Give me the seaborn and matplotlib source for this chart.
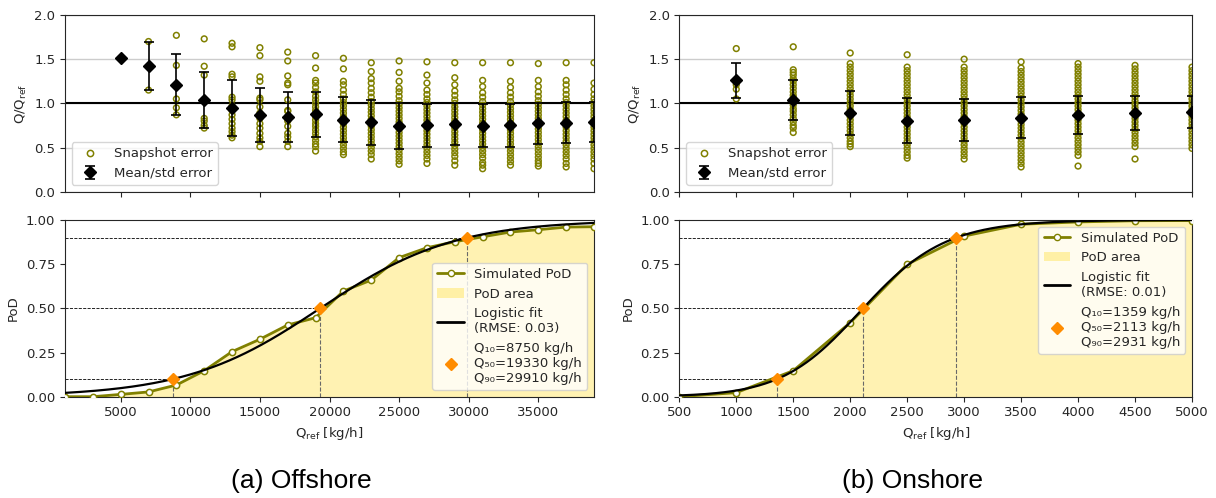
import numpy as np
import pandas as pd
import matplotlib.pyplot as plt
import seaborn as sns
from matplotlib.lines import Line2D
from matplotlib.patches import Patch

# ---------------- data ----------------
# Offshore: snapshot errors Q/Qref per reference rate
off_q_top = [5000, 7000, 9000, 11000, 13000, 15000, 17000, 19000, 21000,
             23000, 25000, 27000, 29000, 31000, 33000, 35000, 37000, 39000]
off_snap = [
    [1.51],
    [1.70, 1.15],
    [1.77, 1.43, 1.05, 0.95, 0.87],
    [1.73, 1.42, 1.32, 1.04, 0.83, 0.80, 0.75, 0.72],
    [1.68, 1.64, 1.33, 1.30, 1.07, 1.04, 0.97, 0.92, 0.87, 0.82, 0.77, 0.72, 0.68, 0.64, 0.61],
    [1.63, 1.54, 1.30, 1.25, 1.06, 1.04, 0.96, 0.89, 0.83, 0.77, 0.72, 0.66, 0.61, 0.57, 0.51],
    [1.58, 1.48, 1.31, 1.23, 1.21, 1.04, 0.92, 0.91, 0.85, 0.80, 0.74, 0.66, 0.62, 0.57, 0.51],
    [1.54, 1.40, 1.26, 1.23, 1.18, 1.13, 1.08, 1.04, 1.00, 0.96, 0.92, 0.89, 0.85, 0.81, 0.77,
     0.74, 0.70, 0.66, 0.62, 0.58, 0.54, 0.51, 0.46],
    [1.51, 1.39, 1.25, 1.21, 1.15, 1.10, 1.05, 1.01, 0.97, 0.93, 0.89, 0.85, 0.81, 0.77, 0.73,
     0.69, 0.65, 0.61, 0.57, 0.53, 0.49, 0.45, 0.42],
    [1.46, 1.36, 1.28, 1.23, 1.17, 1.12, 1.07, 1.02, 0.98, 0.94, 0.90, 0.86, 0.82, 0.78, 0.74,
     0.70, 0.66, 0.62, 0.58, 0.54, 0.50, 0.46, 0.42, 0.37],
    [1.48, 1.35, 1.25, 1.17, 1.13, 1.08, 1.03, 0.99, 0.95, 0.91, 0.87, 0.83, 0.79, 0.75, 0.71,
     0.67, 0.63, 0.59, 0.55, 0.51, 0.47, 0.43, 0.39, 0.35, 0.31],
    [1.47, 1.32, 1.23, 1.15, 1.10, 1.05, 1.01, 0.97, 0.93, 0.89, 0.85, 0.81, 0.77, 0.73, 0.69,
     0.65, 0.61, 0.57, 0.53, 0.49, 0.45, 0.41, 0.37, 0.32],
    [1.46, 1.29, 1.21, 1.14, 1.09, 1.04, 1.00, 0.96, 0.92, 0.88, 0.84, 0.80, 0.76, 0.72, 0.68,
     0.64, 0.60, 0.56, 0.52, 0.48, 0.44, 0.40, 0.35, 0.30],
    [1.46, 1.26, 1.19, 1.12, 1.07, 1.02, 0.98, 0.94, 0.90, 0.86, 0.82, 0.78, 0.74, 0.70, 0.66,
     0.62, 0.58, 0.54, 0.50, 0.46, 0.42, 0.38, 0.33, 0.30, 0.26],
    [1.46, 1.25, 1.18, 1.12, 1.07, 1.02, 0.98, 0.94, 0.90, 0.86, 0.82, 0.78, 0.74, 0.70, 0.66,
     0.62, 0.58, 0.54, 0.50, 0.46, 0.42, 0.38, 0.34, 0.30],
    [1.45, 1.26, 1.19, 1.13, 1.08, 1.03, 0.99, 0.95, 0.91, 0.87, 0.83, 0.79, 0.75, 0.71, 0.67,
     0.63, 0.59, 0.55, 0.51, 0.47, 0.43, 0.39, 0.35, 0.32, 0.29],
    [1.46, 1.26, 1.21, 1.15, 1.10, 1.05, 1.01, 0.97, 0.93, 0.89, 0.85, 0.81, 0.77, 0.73, 0.69,
     0.65, 0.61, 0.57, 0.53, 0.49, 0.45, 0.41, 0.37, 0.32, 0.28],
    [1.46, 1.23, 1.16, 1.10, 1.05, 1.01, 0.97, 0.93, 0.89, 0.85, 0.81, 0.77, 0.73, 0.69, 0.65,
     0.61, 0.57, 0.53, 0.49, 0.45, 0.41, 0.37, 0.32, 0.26],
]
off_mean = [1.514, 1.423, 1.208, 1.038, 0.944, 0.869, 0.849, 0.876, 0.812,
            0.786, 0.741, 0.752, 0.767, 0.747, 0.752, 0.774, 0.780, 0.786]
off_std = [np.nan, 0.275, 0.345, 0.313, 0.315, 0.304, 0.283, 0.253, 0.255,
           0.257, 0.260, 0.245, 0.235, 0.246, 0.243, 0.230, 0.230, 0.225]

# Offshore: simulated probability of detection
off_q_pod = [1000, 3000, 5000, 7000, 9000, 11000, 13000, 15000, 17000, 19000,
             21000, 23000, 25000, 27000, 29000, 31000, 33000, 35000, 37000, 39000]
off_pod = [0.0, 0.0, 0.013, 0.027, 0.066, 0.147, 0.255, 0.325, 0.406, 0.447,
           0.598, 0.66, 0.787, 0.843, 0.877, 0.905, 0.932, 0.945, 0.96, 0.962]
off_quant = [8750, 19330, 29910]
off_rmse = 0.03

# Onshore
on_q_top = [1000, 1500, 2000, 2500, 3000, 3500, 4000, 4500, 5000]
on_snap = [
    [1.62, 1.26, 1.21, 1.16, 1.05],
    [1.64, 1.38, 1.35, 1.32, 1.28, 1.25, 1.21, 1.17, 1.13, 1.09, 1.06, 1.02, 0.98, 0.94, 0.91,
     0.87, 0.83, 0.79, 0.75, 0.72, 0.67],
    [1.57, 1.45, 1.41, 1.37, 1.33, 1.29, 1.25, 1.21, 1.17, 1.13, 1.09, 1.05, 1.01, 0.97, 0.93,
     0.89, 0.85, 0.81, 0.77, 0.73, 0.69, 0.65, 0.61, 0.57, 0.54, 0.51],
    [1.55, 1.41, 1.37, 1.33, 1.29, 1.25, 1.21, 1.17, 1.13, 1.09, 1.05, 1.01, 0.97, 0.93, 0.89,
     0.85, 0.81, 0.77, 0.73, 0.69, 0.65, 0.61, 0.57, 0.53, 0.49, 0.45, 0.41, 0.38],
    [1.50, 1.41, 1.37, 1.33, 1.29, 1.25, 1.21, 1.17, 1.13, 1.09, 1.05, 1.01, 0.97, 0.93, 0.89,
     0.85, 0.81, 0.77, 0.73, 0.69, 0.65, 0.61, 0.57, 0.53, 0.49, 0.45, 0.41, 0.37],
    [1.47, 1.40, 1.36, 1.32, 1.28, 1.24, 1.20, 1.16, 1.12, 1.08, 1.04, 1.00, 0.96, 0.92, 0.88,
     0.84, 0.80, 0.76, 0.72, 0.68, 0.64, 0.60, 0.56, 0.52, 0.48, 0.44, 0.40, 0.36, 0.32, 0.28],
    [1.45, 1.41, 1.37, 1.33, 1.29, 1.25, 1.21, 1.17, 1.13, 1.09, 1.05, 1.01, 0.97, 0.93, 0.89,
     0.85, 0.81, 0.77, 0.73, 0.69, 0.65, 0.61, 0.57, 0.53, 0.49, 0.45, 0.41, 0.29],
    [1.43, 1.39, 1.35, 1.31, 1.27, 1.23, 1.19, 1.15, 1.11, 1.07, 1.03, 0.99, 0.95, 0.91, 0.87,
     0.83, 0.79, 0.75, 0.71, 0.67, 0.63, 0.59, 0.55, 0.51, 0.37],
    [1.41, 1.37, 1.33, 1.29, 1.25, 1.21, 1.17, 1.13, 1.09, 1.05, 1.01, 0.97, 0.93, 0.89, 0.85,
     0.81, 0.77, 0.73, 0.69, 0.65, 0.61, 0.57, 0.53, 0.49],
]
on_mean = [1.26, 1.04, 0.887, 0.804, 0.815, 0.838, 0.868, 0.89, 0.90]
on_std = [0.195, 0.227, 0.25, 0.253, 0.238, 0.234, 0.215, 0.19, 0.178]

on_q_pod = [500, 1000, 1500, 2000, 2500, 3000, 3500, 4000, 4500, 5000]
on_pod = [0.0, 0.023, 0.147, 0.419, 0.749, 0.909, 0.976, 0.989, 0.996, 0.997]
on_quant = [1359, 2113, 2931]
on_rmse = 0.01

OLIVE = "olive"
ORANGE = "#ff8c00"
LEG_FS = 9.5


def logistic_fit(q10, q50, q90, x):
    # generalised logistic passing through the three quantiles
    nus = np.linspace(0.3, 4, 3701)
    g = lambda p, nu: np.log(p ** (-1 / nu) - 1)
    ratio = (g(.5, nus) - g(.9, nus)) / (g(.1, nus) - g(.5, nus))
    nu = nus[np.argmin(np.abs(ratio - (q90 - q50) / (q50 - q10)))]
    s = (q90 - q50) / (g(.5, nu) - g(.9, nu))
    x0 = q50 + s * g(.5, nu)
    return (1 + np.exp(-(x - x0) / s)) ** (-nu)


def draw_top(ax, q, snaps, mean, std, xlim, step):
    df = pd.DataFrame({"q": np.repeat(q, [len(s) for s in snaps]),
                       "err": np.concatenate(snaps)})
    sns.scatterplot(data=df, x="q", y="err", ax=ax, marker="o", s=17,
                    facecolor="none", edgecolor=OLIVE, linewidth=1.1, zorder=3)
    ax.axhline(1.0, color="k", lw=1.5, zorder=2)
    ax.errorbar(q, mean, yerr=std, fmt="D", color="k", ms=6, capsize=3.5,
                elinewidth=1.2, capthick=1.2, zorder=4)
    ax.set_xlim(*xlim)
    ax.set_ylim(0, 2)
    ax.set_yticks([0, 0.5, 1.0, 1.5, 2.0])
    ax.set_xticks(np.arange(step, xlim[1] + 1, step))
    ax.tick_params(labelbottom=False)
    ax.grid(axis="y", color="#cccccc", lw=1)
    ax.set_axisbelow(True)
    ax.set_xlabel("")
    ax.set_ylabel("Q/Q$_{\\mathrm{ref}}$")
    handles = [Line2D([], [], ls="none", marker="o", mfc="none", mec=OLIVE, mew=1.1, ms=4.5),
               ax.containers[-1]]
    ax.legend(handles, ["Snapshot error", "Mean/std error"], loc="lower left", fontsize=LEG_FS)


def draw_bottom(ax, q, pod, quant, rmse, xlim, step, loc):
    ax.fill_between(q, pod, color="gold", alpha=0.3, lw=0)
    sns.lineplot(x=q, y=pod, ax=ax, color=OLIVE, lw=2, marker="o", ms=4.5,
                 markerfacecolor="white", markeredgecolor=OLIVE, markeredgewidth=1.1, zorder=3)
    xs = np.linspace(xlim[0], xlim[1], 400)
    ax.plot(xs, logistic_fit(*quant, xs), color="k", lw=1.6, zorder=4)
    for qq, p in zip(quant, [0.1, 0.5, 0.9]):
        ax.plot([xlim[0], qq], [p, p], color="k", ls="--", lw=0.6, zorder=2)
        ax.plot([qq, qq], [0, p], color="dimgray", ls="--", lw=0.8, zorder=2)
    ax.plot(quant, [0.1, 0.5, 0.9], ls="none", marker="D", color=ORANGE, ms=6, zorder=5)
    ax.set_xlim(*xlim)
    ax.set_ylim(0, 1)
    ax.set_yticks([0, 0.25, 0.5, 0.75, 1.0])
    ax.set_xticks(np.arange(step, xlim[1] + 1, step))
    ax.set_xlabel("Q$_{\\mathrm{ref}}$ [kg/h]")
    ax.set_ylabel("PoD")
    handles = [Line2D([], [], color=OLIVE, lw=2, marker="o", ms=4.5, mfc="white", mec=OLIVE),
               Patch(color="gold", alpha=0.3, lw=0),
               Line2D([], [], color="k", lw=2),
               Line2D([], [], ls="none", marker="D", color=ORANGE, ms=6)]
    labels = ["Simulated PoD", "PoD area", f"Logistic fit\n(RMSE: {rmse:.2f})",
              "Q\u2081\u2080=%d kg/h\nQ\u2085\u2080=%d kg/h\nQ\u2089\u2080=%d kg/h" % tuple(quant)]
    ax.legend(handles, labels, loc=loc, fontsize=LEG_FS)


sns.set_style("ticks")
plt.rcParams["font.family"] = ["DejaVu Sans"]
plt.rcParams["mathtext.default"] = "regular"
plt.rcParams["xtick.labelsize"] = 9.5
plt.rcParams["ytick.labelsize"] = 9.5
plt.rcParams["axes.labelsize"] = 9.5

fig = plt.figure(figsize=(12.16, 4.98), dpi=100)
W, H = 1216, 498


def add_ax(left, right, top, bottom):
    return fig.add_axes([left / W, 1 - bottom / H, (right - left) / W, (bottom - top) / H])


ax1 = add_ax(65, 594, 15, 191.7)
ax2 = add_ax(65, 594, 220, 396.7)
ax3 = add_ax(679.3, 1192, 15, 191.7)
ax4 = add_ax(679.3, 1192, 220, 396.7)

draw_top(ax1, off_q_top, off_snap, off_mean, off_std, (1000, 39000), 5000)
draw_bottom(ax2, off_q_pod, off_pod, off_quant, off_rmse, (1000, 39000), 5000, "lower right")
draw_top(ax3, on_q_top, on_snap, on_mean, on_std, (500, 5000), 500)
draw_bottom(ax4, on_q_pod, on_pod, on_quant, on_rmse, (500, 5000), 500, "upper right")

fig.text(0.2475, 0.035, "(a) Offshore", ha="center", va="center", fontsize=19,
         family="Liberation Sans", color="black")
fig.text(0.75, 0.035, "(b) Onshore", ha="center", va="center", fontsize=19,
         family="Liberation Sans", color="black")

fig.savefig("out.png", dpi=100)
